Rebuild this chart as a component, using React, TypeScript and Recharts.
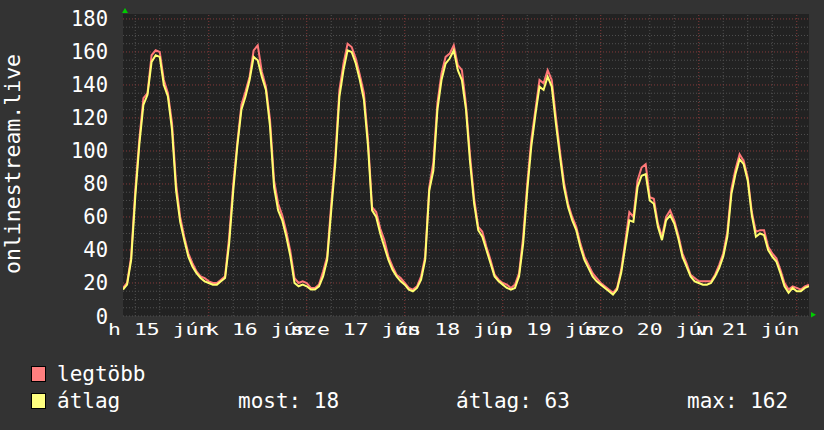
import React from 'react';
import { ComposedChart, Line, XAxis, YAxis, CartesianGrid, ReferenceLine } from 'recharts';

// hourly samples, starting 15 jún 03:00
const avgValues = [
  16, 19, 34, 72, 104, 128, 134, 154, 158, 157, 140, 133, 113, 76, 57, 46, 36, 30, 26, 23, 21, 20, 19, 19,
  21, 23, 44, 76, 103, 125, 133, 143, 157, 155, 145, 137, 115, 78, 64, 58, 48, 36, 20, 18, 19, 18, 16, 16,
  18, 24, 34, 64, 93, 133, 149, 161, 160, 153, 143, 131, 103, 64, 60, 50, 42, 34, 28, 24, 21, 19, 16, 15,
  17, 22, 34, 76, 88, 125, 143, 153, 156, 161, 149, 143, 125, 93, 68, 52, 48, 40, 32, 24, 21, 19, 17, 16,
  17, 24, 44, 76, 103, 122, 139, 137, 145, 139, 117, 97, 78, 66, 58, 52, 42, 34, 29, 24, 21, 19, 17, 15,
  13, 16, 26, 42, 58, 57, 78, 85, 86, 70, 68, 54, 46, 58, 61, 56, 47, 36, 30, 24, 21, 20, 19, 19,
  20, 24, 29, 36, 48, 74, 86, 95, 92, 82, 61, 48, 50, 49, 40, 36, 33, 26, 18, 14, 17, 15, 15, 17,
  18,
];
const maxValues = [
  17, 20, 36, 76, 107, 132, 135, 158, 161, 160, 143, 135, 117, 80, 60, 48, 38, 32, 27, 24, 23, 21, 20, 20,
  22, 24, 48, 80, 105, 128, 136, 145, 161, 164, 148, 139, 119, 82, 68, 61, 51, 39, 23, 20, 21, 20, 17, 17,
  19, 27, 36, 68, 97, 137, 153, 165, 163, 156, 146, 135, 107, 66, 63, 53, 46, 36, 30, 25, 23, 20, 17, 16,
  18, 24, 36, 78, 93, 129, 147, 157, 159, 164, 152, 149, 128, 97, 71, 54, 51, 42, 34, 25, 22, 20, 19, 17,
  19, 26, 48, 80, 107, 125, 143, 141, 149, 143, 121, 100, 81, 68, 60, 54, 44, 36, 31, 26, 23, 20, 18, 16,
  14, 17, 28, 45, 63, 60, 82, 90, 92, 72, 71, 56, 48, 60, 64, 58, 49, 38, 32, 25, 23, 21, 21, 21,
  21, 25, 31, 38, 51, 77, 89, 98, 94, 84, 63, 51, 52, 52, 42, 38, 35, 28, 20, 16, 18, 17, 16, 18,
  19,
];

const dayLabels = ['h 15 jún', 'k 16 jún', 'sze 17 jún', 'cs 18 jún', 'p 19 jún', 'szo 20 jún', 'v 21 jún'];
const dayLabelHours = [9, 33, 57, 81, 105, 129, 153];
const midnightHours = [21, 45, 69, 93, 117, 141, 165];
const minorHours = [3, 9, 15, 27, 33, 39, 51, 57, 63, 75, 81, 87, 99, 105, 111, 123, 129, 135, 147, 153, 159];
const yTicks = [0, 20, 40, 60, 80, 100, 120, 140, 160, 180];
const yMinor = [0, 5, 10, 15, 25, 30, 35, 45, 50, 55, 65, 70, 75, 85, 90, 95, 105, 110, 115, 125, 130, 135, 145, 150, 155, 165, 170, 175];

const seriesNames = ['legtöbb', 'átlag'];
const seriesColors = ['#ff7878', '#ffff70'];
const legendSwatch = ['#ff7f7f', '#ffff7f'];
const statLabels = ['most: 18', 'átlag: 63', 'max: 162'];
const yTitle = 'onlinestream.live';

const rows = avgValues.map((v, i) => ({ h: i, avg: v, max: maxValues[i] }));

const FONT = 'DejaVu Sans Mono';
const MINOR = '#505050';
const MAJOR = '#853a3a';

const XTick = (props: any) => {
  const { x, y, payload } = props;
  const idx = dayLabelHours.indexOf(payload.value);
  return (
    <g transform={`translate(${x},${y + 19}) scale(1.3,1)`}>
      <text x={0} y={0} textAnchor="middle" fontSize={16.5} fontFamily={FONT} fill="#ffffff">
        {dayLabels[idx]}
      </text>
    </g>
  );
};

const YTick = (props: any) => {
  const { x, y, payload } = props;
  return (
    <text x={x - 15} y={y + 7.5} textAnchor="end" fontSize={20.5} fontFamily={FONT} fill="#ffffff">
      {payload.value}
    </text>
  );
};

export default function App() {
  return (
    <div style={{ position: 'absolute', left: 0, top: 0, width: 824, height: 430, background: '#333333' }}>
      <ComposedChart width={824} height={430} data={rows} margin={{ top: 14, right: 15, bottom: 0, left: 0 }}>
        <CartesianGrid horizontal={false} vertical={false} fill="#222222" />
        {yMinor.map((v) => (
          <ReferenceLine key={'ym' + v} y={v} stroke={MINOR} strokeDasharray="1 2" zIndex={-50} />
        ))}
        {minorHours.map((v) => (
          <ReferenceLine key={'xm' + v} x={v} stroke={MINOR} strokeDasharray="1 2" zIndex={-50} />
        ))}
        {yTicks.slice(1).map((v) => (
          <ReferenceLine key={'yM' + v} y={v} stroke={MAJOR} strokeDasharray="1 2" zIndex={-40} />
        ))}
        {midnightHours.map((v) => (
          <ReferenceLine key={'xM' + v} x={v} stroke={MAJOR} strokeDasharray="1 2" zIndex={-40} />
        ))}
        <XAxis
          dataKey="h"
          type="number"
          domain={[0, 168]}
          ticks={dayLabelHours}
          interval={0}
          height={114}
          axisLine={false}
          tickLine={false}
          tickSize={0}
          tickMargin={0}
          tick={<XTick />}
          allowDataOverflow
        />
        <YAxis
          type="number"
          domain={[0, 183]}
          ticks={yTicks}
          interval={0}
          width={123}
          axisLine={false}
          tickLine={false}
          tickSize={0}
          tickMargin={0}
          tick={<YTick />}
          allowDataOverflow
        />
        <Line dataKey="max" name={seriesNames[0]} type="linear" stroke={seriesColors[0]} strokeWidth={2} dot={false} activeDot={false} isAnimationActive={false} />
        <Line dataKey="avg" name={seriesNames[1]} type="linear" stroke={seriesColors[1]} strokeWidth={2} dot={false} activeDot={false} isAnimationActive={false} />
      </ComposedChart>
      <svg width={824} height={430} style={{ position: 'absolute', left: 0, top: 0, pointerEvents: 'none' }}>
        <text transform="translate(20,164) rotate(-90)" textAnchor="middle" fontSize={21.5} fontFamily={FONT} fill="#ffffff">
          {yTitle}
        </text>
        <polygon points="122,13 128,13 125,8" fill="#00cc00" />
        <polygon points="811,312 811,317.5 816,314.75" fill="#00cc00" />
        <rect x={31.5} y={366.5} width={14} height={15} fill={legendSwatch[0]} stroke="#000" strokeWidth={1} />
        <text x={57} y={381} fontSize={21} fontFamily={FONT} fill="#ffffff">{seriesNames[0]}</text>
        <rect x={31.5} y={393.5} width={14} height={15} fill={legendSwatch[1]} stroke="#000" strokeWidth={1} />
        <text x={57} y={408} fontSize={21} fontFamily={FONT} fill="#ffffff">{seriesNames[1]}</text>
        <text x={238} y={408} fontSize={21} fontFamily={FONT} fill="#ffffff">{statLabels[0]}</text>
        <text x={456} y={408} fontSize={21} fontFamily={FONT} fill="#ffffff">{statLabels[1]}</text>
        <text x={687} y={408} fontSize={21} fontFamily={FONT} fill="#ffffff">{statLabels[2]}</text>
      </svg>
    </div>
  );
}
